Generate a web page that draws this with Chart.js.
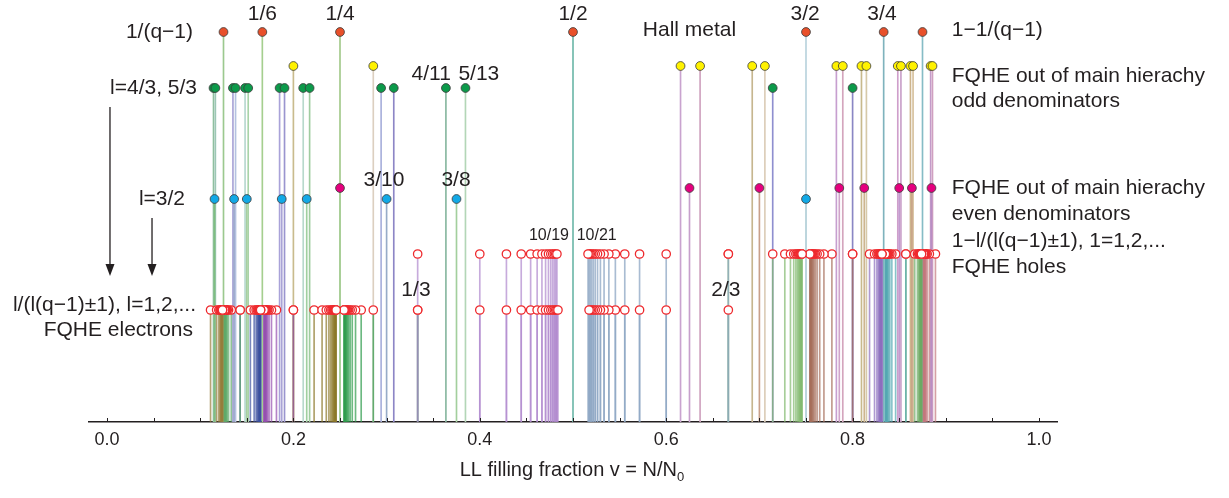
<!DOCTYPE html>
<html><head><meta charset="utf-8">
<script src="https://cdn.jsdelivr.net/npm/chart.js@4.4.1/dist/chart.umd.min.js"></script>
<style>html,body{margin:0;padding:0;background:#fff;}#wrap{width:1229px;height:498px;}</style>
</head><body><div id="wrap"><canvas id="c" width="1229" height="498"></canvas></div>
<script>
// ---- row heights (units above the axis) ----
const rowHeights = [390, 356, 334, 234, 223, 168, 112]; // orange, yellow, green, magenta, blue, holes, electrons

// ---- x-axis ticks ----
const tickValues = [0,0.05,0.1,0.15,0.2,0.25,0.3,0.35,0.4,0.45,0.5,0.55,0.6,0.65,0.7,0.75,0.8,0.85,0.9,0.95,1.0];
const majorTicks = [0,0.2,0.4,0.6,0.8,1.0];
const majorLabels = ['0.0','0.2','0.4','0.6','0.8','1.0'];

// ---- top rows ----
const orangeX  = [1/8, 1/6, 1/4, 1/2, 3/4, 5/6, 7/8];
const yellowX  = [1/5, 2/7, 8/13, 7/11, 9/13, 12/17, 18/23, 15/19, 17/21, 22/27, 28/33, 23/27, 25/29, 32/37, 38/43, 31/35];
const greenX   = [4/35, 5/43, 5/37, 4/29, 4/27, 5/33, 5/27, 4/21, 4/19, 5/23, 5/17, 4/13, 4/11, 5/13, 5/7, 4/5];
const magentaX = [1/4, 5/8, 7/10, 11/14, 13/16, 17/20, 19/22, 23/26];
const blueX    = [3/26, 3/22, 3/20, 3/16, 3/14, 3/10, 3/8, 3/4];

// ---- FQHE electrons (lower open circles) ----
const elecQ9p = [1/9, 2/17, 3/25, 4/33, 5/41, 6/49, 7/57, 8/65, 9/73, 10/81, 11/89, 12/97, 13/105, 14/113, 15/121];
const elecQ9m = [1/7, 2/15, 3/23, 4/31, 5/39, 6/47, 7/55, 8/63, 9/71, 10/79, 11/87, 12/95, 13/103, 14/111, 15/119];
const elecQ7p = [1/7, 2/13, 3/19, 4/25, 5/31, 6/37, 7/43, 8/49, 9/55, 10/61, 11/67, 12/73, 13/79, 14/85, 15/91];
const elecQ7m = [1/5, 2/11, 3/17, 4/23, 5/29, 6/35, 7/41, 8/47, 9/53, 10/59, 11/65, 12/71, 13/77, 14/83, 15/89];
const elecQ5p = [1/5, 2/9, 3/13, 4/17, 5/21, 6/25, 7/29, 8/33, 9/37, 10/41, 11/45, 12/49, 13/53, 14/57, 15/61];
const elecQ5m = [1/3, 2/7, 3/11, 4/15, 5/19, 6/23, 7/27, 8/31, 9/35, 10/39, 11/43, 12/47, 13/51, 14/55, 15/59];
const elecQ3p = [1/3, 2/5, 3/7, 4/9, 5/11, 6/13, 7/15, 8/17, 9/19, 10/21, 11/23, 12/25, 13/27, 14/29, 15/31];
const elecQ3m = [2/3, 3/5, 4/7, 5/9, 6/11, 7/13, 8/15, 9/17, 10/19, 11/21, 12/23, 13/25, 14/27, 15/29];

// ---- FQHE holes (upper open circles) ----
const holeQ3m = [1/3, 2/5, 3/7, 4/9, 5/11, 6/13, 7/15, 8/17, 9/19, 10/21, 11/23, 12/25, 13/27, 14/29];
const holeQ3p = [2/3, 3/5, 4/7, 5/9, 6/11, 7/13, 8/15, 9/17, 10/19, 11/21, 12/23, 13/25, 14/27, 15/29, 16/31];
const holeQ5m = [2/3, 5/7, 8/11, 11/15, 14/19, 17/23, 20/27, 23/31, 26/35, 29/39, 32/43, 35/47, 38/51, 41/55, 44/59];
const holeQ5p = [4/5, 7/9, 10/13, 13/17, 16/21, 19/25, 22/29, 25/33, 28/37, 31/41, 34/45, 37/49, 40/53, 43/57, 46/61];
const holeQ7m = [4/5, 9/11, 14/17, 19/23, 24/29, 29/35, 34/41, 39/47, 44/53, 49/59, 54/65, 59/71, 64/77, 69/83, 74/89];
const holeQ7p = [6/7, 11/13, 16/19, 21/25, 26/31, 31/37, 36/43, 41/49, 46/55, 51/61, 56/67, 61/73, 66/79, 71/85, 76/91];
const holeQ9m = [6/7, 13/15, 20/23, 27/31, 34/39, 41/47, 48/55, 55/63, 62/71, 69/79, 76/87, 83/95, 90/103, 97/111, 104/119];
const holeQ9p = [8/9, 15/17, 22/25, 29/33, 36/41, 43/49, 50/57, 57/65, 64/73, 71/81, 78/89, 85/97, 92/105, 99/113, 106/121];

// ---- stem colours ----
const orangeStem  = ['#9cc98f','#a5cf8f','#a3c98a','#6fb8aa','#b9d3dd','#7fb3bd','#86bcc6'];
const yellowStem  = ['#c9bb8d','#dccfc0','#c9a3cf','#cfa3bf','#c6b68f','#dccdb8','#c79fcf','#d4a5bd','#c8b98c','#d6c9a9','#cf9fcb','#c9a0c9','#cdb48c','#d6c09c','#c39bc9','#d0a0c0'];
const greenStem   = ['#8fbf9f','#9cc7b5','#a7a3d6','#b4c2e0','#b6d8cf','#a8d3a8','#a9a2d8','#9a95cf','#b7d9cc','#9fcca0','#a9b0dc','#8d86c6','#88b8a0','#b3d6b7','#8f8fcf','#8a86c4'];
const magentaStem = ['#a8cf98','#c7a0cc','#c9a08a','#cfa3c9','#cdb58f','#c39bd0','#c6a080','#b98ec4'];
const blueStem    = ['#7fbf7f','#9aa8cc','#a6cf9f','#a9a3d6','#9fcf9f','#98acc8','#a3cf9d','#bcd5dc'];
const elecStem = ['rgba(150,125,60,0.7)','rgba(95,170,105,0.7)','rgba(60,80,160,0.7)','rgba(150,80,175,0.7)',
                  'rgba(140,120,40,0.7)','rgba(45,155,75,0.7)','rgba(175,135,205,0.7)','rgba(140,165,195,0.75)'];
const holeStem = ['rgba(175,135,205,0.7)','rgba(140,165,195,0.75)','rgba(130,185,110,0.7)','rgba(165,110,90,0.7)',
                  'rgba(140,110,190,0.7)','rgba(85,170,180,0.7)','rgba(110,170,100,0.7)','rgba(195,120,125,0.7)'];

const TXT = '#231f20';
const FONT = '"Liberation Sans", Arial, Helvetica, sans-serif';

// ---- annotation texts (anchored in data coordinates) ----
const notes = [
  {t:'1/(q\u22121)', x:0.0923, h:390, a:'right'},
  {t:'1/6', x:1/6, h:408, a:'center'},
  {t:'1/4', x:1/4, h:408, a:'center'},
  {t:'1/2', x:1/2, h:408, a:'center'},
  {t:'Hall metal', x:0.625, h:392, a:'center'},
  {t:'3/2', x:0.749, h:408, a:'center'},
  {t:'3/4', x:0.8315, h:408, a:'center'},
  {t:'1\u22121/(q\u22121)', x:0.9064, h:392, a:'left'},
  {t:'4/11', x:0.3478, h:348, a:'center'},
  {t:'5/13', x:0.399, h:348, a:'center'},
  {t:'l=4/3, 5/3', x:0.0966, h:334, a:'right'},
  {t:'FQHE out of main hierachy', x:0.9064, h:346, a:'left'},
  {t:'odd denominators', x:0.9064, h:321, a:'left'},
  {t:'3/10', x:0.2972, h:242, a:'center'},
  {t:'3/8', x:0.3745, h:242, a:'center'},
  {t:'l=3/2', x:0.0837, h:223, a:'right'},
  {t:'FQHE out of main hierachy', x:0.9064, h:234, a:'left'},
  {t:'even denominators', x:0.9064, h:208, a:'left'},
  {t:'1\u2212l/(l(q\u22121)\u00b11), 1=1,2,...', x:0.9064, h:181, a:'left'},
  {t:'FQHE holes', x:0.9064, h:155, a:'left'},
  {t:'10/19', x:0.4742, h:186, a:'center', s:16},
  {t:'10/21', x:0.5254, h:186, a:'center', s:16},
  {t:'1/3', x:0.3315, h:132, a:'center'},
  {t:'2/3', x:0.664, h:132, a:'center'},
  {t:'l/(l(q\u22121)\u00b11), l=1,2,...', x:0.0955, h:117, a:'right'},
  {t:'FQHE electrons', x:0.0923, h:92, a:'right'}
];
const arrows = [ {x:0.0032, from:315, to:146}, {x:0.0483, from:204, to:146} ];

function stems(xs, h, color){
  return {type:'bar', data: xs.map(v=>({x:v, y:h})), backgroundColor: color, barThickness:1, grouped:false, order:5, borderWidth:0};
}
function dots(xs, h, fill, stroke, r, bw, ord){
  return {type:'scatter', data: xs.map(v=>({x:v, y:h})), pointRadius:r, pointHoverRadius:r,
          backgroundColor: fill, borderColor: stroke, pointBorderWidth:bw, borderWidth:bw, order:ord};
}

const [hO,hY,hG,hM,hB,hH,hE] = rowHeights;
const elecFam = [elecQ9p, elecQ9m, elecQ7p, elecQ7m, elecQ5p, elecQ5m, elecQ3p, elecQ3m];
const holeFam = [holeQ3m, holeQ3p, holeQ5m, holeQ5p, holeQ7m, holeQ7p, holeQ9m, holeQ9p];

const datasets = [];
holeFam.forEach((f,i)=>datasets.push(stems(f, hH, holeStem[i])));
elecFam.forEach((f,i)=>datasets.push(stems(f, hE, elecStem[i])));
datasets.push(stems(blueX, hB, blueStem));
datasets.push(stems(magentaX, hM, magentaStem));
datasets.push(stems(greenX, hG, greenStem));
datasets.push(stems(yellowX, hY, yellowStem));
datasets.push(stems(orangeX, hO, orangeStem));

const RED = '#ee2a2e', EDGE = '#3a3a3a';
holeFam.forEach(f=>datasets.push(dots(f, hH, '#ffffff', RED, 4.2, 1.3, 1)));
elecFam.forEach(f=>datasets.push(dots(f, hE, '#ffffff', RED, 4.2, 1.3, 1)));
datasets.push(dots(blueX, hB, '#12a9e6', EDGE, 4.4, 0.8, 0));
datasets.push(dots(magentaX, hM, '#e5007e', EDGE, 4.4, 0.8, 0));
datasets.push(dots(greenX, hG, '#0c9a4a', EDGE, 4.4, 0.8, 0));
datasets.push(dots(yellowX, hY, '#fff200', EDGE, 4.4, 0.8, 0));
datasets.push(dots(orangeX, hO, '#e8502a', EDGE, 4.4, 0.8, 0));

const decor = {
  id:'decor',
  afterDraw(chart){
    const {ctx, scales:{x, y}, chartArea:ca} = chart;
    ctx.save();
    // inward tick marks
    ctx.strokeStyle = TXT; ctx.lineWidth = 1;
    tickValues.forEach(v=>{
      const px = Math.round(x.getPixelForValue(v)) + 0.5;
      ctx.beginPath(); ctx.moveTo(px, ca.bottom); ctx.lineTo(px, ca.bottom - 4); ctx.stroke();
    });
    // texts
    ctx.fillStyle = TXT; ctx.textBaseline = 'middle';
    notes.forEach(n=>{
      ctx.font = (n.s || 21) + 'px ' + FONT;
      ctx.textAlign = n.a;
      ctx.fillText(n.t, x.getPixelForValue(n.x), y.getPixelForValue(n.h));
    });
    // arrows
    ctx.lineWidth = 1.3; ctx.strokeStyle = TXT;
    arrows.forEach(a=>{
      const px = x.getPixelForValue(a.x), y0 = y.getPixelForValue(a.from), y1 = y.getPixelForValue(a.to);
      ctx.beginPath(); ctx.moveTo(px, y0); ctx.lineTo(px, y1 - 10); ctx.stroke();
      ctx.beginPath(); ctx.moveTo(px - 4.5, y1 - 12); ctx.lineTo(px + 4.5, y1 - 12); ctx.lineTo(px, y1); ctx.closePath(); ctx.fill();
    });
    // axis title with subscript
    const main = 'LL filling fraction v = N/N';
    ctx.font = '20px ' + FONT; ctx.textAlign = 'left';
    const w = ctx.measureText(main).width;
    ctx.font = '13px ' + FONT;
    const ws = ctx.measureText('0').width;
    const cx = 572;
    const sx = cx - (w + ws) / 2;
    ctx.font = '20px ' + FONT;
    ctx.fillText(main, sx, 470);
    ctx.font = '13px ' + FONT;
    ctx.fillText('0', sx + w, 477);
    ctx.restore();
  }
};

new Chart(document.getElementById('c'), {
  type:'scatter',
  data:{datasets},
  options:{
    responsive:false, animation:false, events:[],
    layout:{padding:{left:88.36, right:171.36, top:10, bottom:0}},
    plugins:{legend:{display:false}, tooltip:{enabled:false}},
    scales:{
      x:{type:'linear', min:-0.02, max:1.02, offset:false,
         afterBuildTicks:(s)=>{ s.ticks = tickValues.map(v=>({value:v})); },
         afterFit:(s)=>{ s.height = 76; },
         grid:{display:true, drawOnChartArea:false, drawTicks:false},
         border:{display:true, color:TXT, width:1.4},
         ticks:{autoSkip:false, maxRotation:0, padding:7, color:TXT, font:{family:FONT, size:18},
                callback:(v)=>{ const i = majorTicks.findIndex(m=>Math.abs(m-v)<1e-9); return i>=0 ? majorLabels[i] : ''; }},
         title:{display:false}},
      y:{type:'linear', display:false, min:0, max:412}
    }
  },
  plugins:[decor]
});
</script></body></html>
